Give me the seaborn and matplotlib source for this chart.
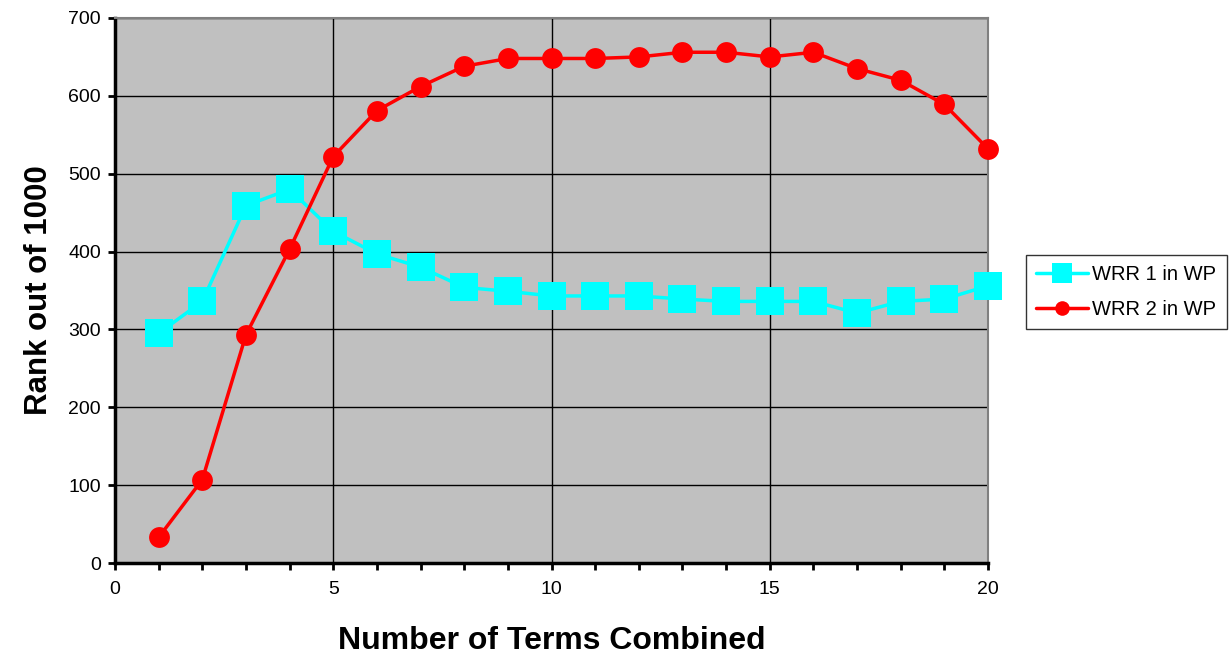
import numpy as np
import pandas as pd
import matplotlib
matplotlib.use("Agg")
import matplotlib.pyplot as plt
from matplotlib.ticker import MultipleLocator
import seaborn as sns

terms = list(range(1, 21))
wrr1 = [295, 336, 459, 480, 426, 397, 380, 354, 349, 343,
        343, 343, 339, 336, 336, 336, 321, 336, 339, 356]
wrr2 = [33, 107, 293, 403, 522, 581, 612, 638, 648, 648,
        648, 650, 656, 656, 650, 656, 635, 620, 589, 532]
series_names = ["WRR 1 in WP", "WRR 2 in WP"]

sns.set_theme(style="white")
plt.rcParams['font.family'] = ['Liberation Sans', 'DejaVu Sans']
plt.rcParams['text.color'] = 'black'
plt.rcParams['axes.labelcolor'] = 'black'

fig = plt.figure(figsize=(12.30, 6.64), dpi=100)
ax = fig.add_axes([115/1230, 1-563/664, (988-115)/1230, (563-18)/664])
ax.set_facecolor("#C0C0C0")

df1 = pd.DataFrame({"x": terms, "y": wrr1})
df2 = pd.DataFrame({"x": terms, "y": wrr2})

sns.lineplot(data=df1, x="x", y="y", ax=ax, color="#00FFFF", lw=2.5,
             marker="s", markersize=20, markeredgewidth=0, label=series_names[0],
             zorder=3, clip_on=False)
sns.lineplot(data=df2, x="x", y="y", ax=ax, color="#FF0000", lw=2.5,
             marker="o", markersize=15, markeredgewidth=0, label=series_names[1],
             zorder=4, clip_on=False)

ax.set_xlim(0, 20)
ax.set_ylim(0, 700)
ax.xaxis.set_major_locator(MultipleLocator(5))
ax.xaxis.set_minor_locator(MultipleLocator(1))
ax.yaxis.set_major_locator(MultipleLocator(100))
ax.grid(True, which="major", color="black", lw=1.0, zorder=0)
ax.grid(False, which="minor")
ax.set_axisbelow(True)

ax.tick_params(axis="both", which="both", direction="out", length=5, width=2,
               color="black", labelsize=14, labelcolor="black", left=True, bottom=True)
ax.tick_params(axis="x", pad=8)
ax.tick_params(axis="y", pad=5)

for s in ["left", "bottom"]:
    ax.spines[s].set_color("black")
    ax.spines[s].set_linewidth(2.5)
for s in ["top", "right"]:
    ax.spines[s].set_color("#808080")
    ax.spines[s].set_linewidth(1.5)
    ax.spines[s].set_visible(True)

ax.set_xlabel("Number of Terms Combined", fontsize=23, fontweight="bold", labelpad=20, color="black")
ax.set_ylabel("Rank out of 1000", fontsize=22.5, fontweight="bold", labelpad=10, color="black")

leg = ax.legend(loc="center left", bbox_to_anchor=(1026/1230, 1-292/664),
                bbox_transform=fig.transFigure, frameon=True, fancybox=False,
                fontsize=14.5, handlelength=2.6, handletextpad=0.2,
                borderpad=0.5, labelspacing=0.8, markerscale=0.7, borderaxespad=0)
leg.get_frame().set_edgecolor("black")
leg.get_frame().set_linewidth(1.0)
leg.get_frame().set_facecolor("white")
for t in leg.get_texts():
    t.set_color("black")

fig.savefig("out.png", dpi=100, facecolor="white")
